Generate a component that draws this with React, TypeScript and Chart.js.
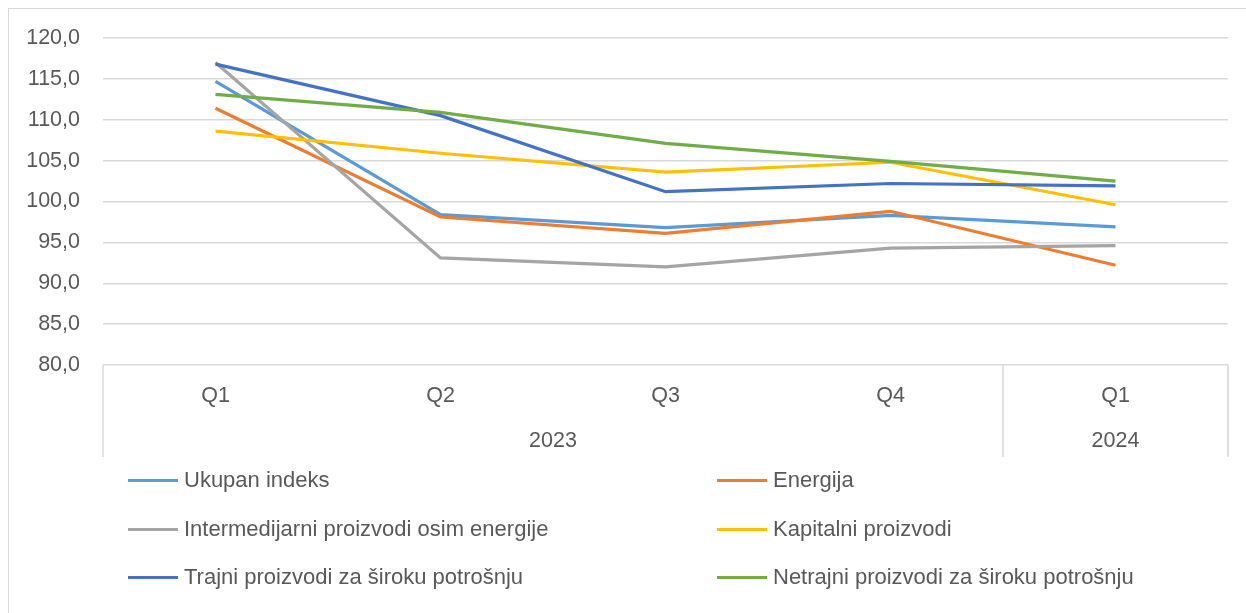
import React, { useEffect, useRef } from "react";
import { Chart, registerables } from "chart.js";

Chart.register(...registerables);

const quarterLabels = ["Q1", "Q2", "Q3", "Q4", "Q1"];
const yearLabels = ["2023", "2023", "2023", "2023", "2024"];

const seriesNames = [
  "Ukupan indeks",
  "Energija",
  "Intermedijarni proizvodi osim energije",
  "Kapitalni proizvodi",
  "Trajni proizvodi za široku potrošnju",
  "Netrajni proizvodi za široku potrošnju",
];
const seriesColors = ["#5B9BD5", "#ED7D31", "#A5A5A5", "#FFC000", "#4472C4", "#70AD47"];

const ukupanIndeks = [114.7, 98.4, 96.8, 98.3, 96.9];
const energija = [111.4, 98.1, 96.1, 98.8, 92.2];
const intermedijarni = [117.0, 93.1, 92.0, 94.3, 94.6];
const kapitalni = [108.6, 105.9, 103.6, 104.8, 99.6];
const trajni = [116.8, 110.5, 101.2, 102.2, 101.9];
const netrajni = [113.1, 110.9, 107.1, 104.9, 102.5];

const seriesValues = [ukupanIndeks, energija, intermedijarni, kapitalni, trajni, netrajni];

const FONT = "'Liberation Sans', Arial, sans-serif";
const FONT_SIZE = 21.5;
const LEGEND_FONT_SIZE = 22;
const TEXT_COLOR = "#595959";
const GRID_COLOR = "#d9d9d9";

const groupPlugin = {
  id: "groupAxis",
  afterDraw(chart: any) {
    const xs = chart.scales.x;
    const ctx = chart.ctx;
    const top = chart.chartArea.bottom;
    const bottom = top + 92;
    const groups: { label: string; start: number; end: number }[] = [];
    yearLabels.forEach((y, i) => {
      const last = groups[groups.length - 1];
      if (last && last.label === y) last.end = i;
      else groups.push({ label: y, start: i, end: i });
    });
    ctx.save();
    ctx.strokeStyle = GRID_COLOR;
    ctx.lineWidth = 1.5;
    const edges = [xs.getPixelForValue(-0.5)];
    groups.forEach((g) => edges.push(xs.getPixelForValue(g.end + 0.5)));
    edges.forEach((x) => {
      ctx.beginPath();
      ctx.moveTo(x, top);
      ctx.lineTo(x, bottom);
      ctx.stroke();
    });
    ctx.fillStyle = TEXT_COLOR;
    ctx.font = `${FONT_SIZE}px ${FONT}`;
    ctx.textAlign = "center";
    ctx.textBaseline = "middle";
    groups.forEach((g) => {
      const cx = (xs.getPixelForValue(g.start) + xs.getPixelForValue(g.end)) / 2;
      ctx.fillText(g.label, cx, top + 76);
    });
    ctx.restore();
  },
};

export default function App() {
  const ref = useRef<HTMLCanvasElement | null>(null);
  useEffect(() => {
    if (!ref.current) return;
    const chart = new Chart(ref.current, {
      type: "line",
      data: {
        labels: quarterLabels,
        datasets: seriesValues.map((vals, i) => ({
          label: seriesNames[i],
          data: vals,
          borderColor: seriesColors[i],
          backgroundColor: seriesColors[i],
          borderWidth: 3.2,
          pointRadius: 0,
          tension: 0,
          order: seriesValues.length - i,
        })),
      },
      options: {
        responsive: false,
        animation: false,
        devicePixelRatio: 1,
        layout: { padding: { left: 0, top: 38, right: 18, bottom: 156 } },
        plugins: {
          legend: { display: false },
          tooltip: { enabled: false },
          title: { display: false },
        },
        scales: {
          x: {
            offset: true,
            grid: { display: false, drawTicks: false },
            border: { display: false },
            ticks: {
              color: TEXT_COLOR,
              font: { family: FONT, size: FONT_SIZE },
              padding: 18,
              maxRotation: 0,
              autoSkip: false,
            },
            afterFit: (s: any) => {
              s.height = 92;
            },
          },
          y: {
            min: 80,
            max: 120,
            grid: { color: GRID_COLOR, lineWidth: 1.5, drawTicks: false },
            border: { display: false },
            ticks: {
              stepSize: 5,
              color: TEXT_COLOR,
              font: { family: FONT, size: FONT_SIZE },
              padding: 23,
              callback: (v: any) => Number(v).toFixed(1).replace(".", ","),
            },
            afterFit: (s: any) => {
              s.width = 103;
            },
          },
        },
      },
      plugins: [groupPlugin],
    });
    return () => chart.destroy();
  }, []);

  const legendRows = [480, 529, 577];
  const legendCols = [128, 717];

  return (
    <div
      style={{
        position: "absolute",
        left: 0,
        top: 0,
        width: 1246,
        height: 613,
        overflow: "hidden",
        background: "#ffffff",
      }}
    >
      <div
        style={{
          position: "absolute",
          left: 8,
          top: 8,
          width: 1300,
          height: 700,
          border: `1px solid ${GRID_COLOR}`,
        }}
      />
      <canvas
        ref={ref}
        width={1246}
        height={613}
        style={{ position: "absolute", left: 0, top: 0, width: 1246, height: 613 }}
      />
      {seriesNames.map((name, i) => {
        const row = Math.floor(i / 2);
        const col = i % 2;
        const y = legendRows[row];
        const x = legendCols[col];
        return (
          <div key={name}>
            <div
              style={{
                position: "absolute",
                left: x,
                top: y - 1.5,
                width: 50,
                height: 3,
                background: seriesColors[i],
              }}
            />
            <div
              style={{
                position: "absolute",
                left: x + 56,
                top: y - 13,
                height: 26,
                lineHeight: "26px",
                fontFamily: FONT,
                fontSize: LEGEND_FONT_SIZE,
                color: TEXT_COLOR,
                whiteSpace: "nowrap",
              }}
            >
              {name}
            </div>
          </div>
        );
      })}
    </div>
  );
}
